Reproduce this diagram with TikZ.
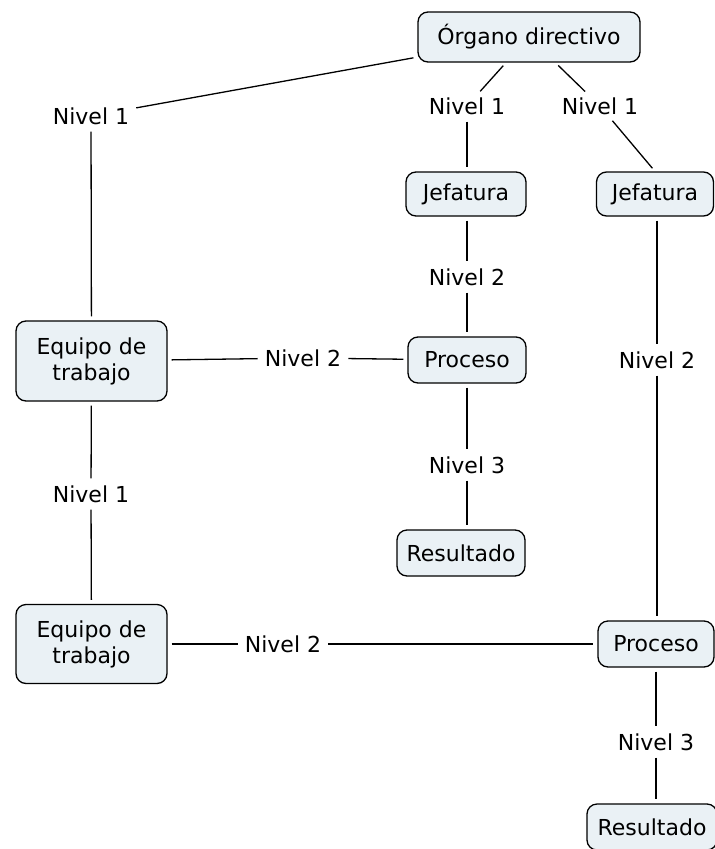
\documentclass[tikz,border=0pt]{standalone}
\usepackage{fontspec}
\setmainfont{DejaVu Sans}
\definecolor{boxfill}{RGB}{234,241,245}
\begin{document}
\begin{tikzpicture}[x=1pt,y=-1pt,
 box/.style={draw=black, line width=1.3pt, rounded corners=10pt, fill=boxfill, font=\fontsize{22}{26}\selectfont, align=center, inner sep=0pt},
 lbl/.style={font=\fontsize{22}{26}\selectfont, inner sep=3pt},
 link/.style={line width=1.3pt, shorten >=4pt, shorten <=4pt}]
\useasboundingbox (0,0) rectangle (715,849);
\node[box, minimum width=222, minimum height=50] (organo) at (529,37) {Órgano directivo};
\node[box, minimum width=120, minimum height=44] (jef1) at (466,194) {Jefatura};
\node[box, minimum width=117, minimum height=44] (jef2) at (655,194) {Jefatura};
\node[box, minimum width=151, minimum height=80] (eq1) at (91.5,361) {Equipo de\\trabajo};
\node[box, minimum width=118, minimum height=46] (proc1) at (467,360) {Proceso};
\node[box, minimum width=128, minimum height=46] (res1) at (461,553) {Resultado};
\node[box, minimum width=151, minimum height=79] (eq2) at (91.5,644) {Equipo de\\trabajo};
\node[box, minimum width=116, minimum height=46] (proc2) at (656,644) {Proceso};
\node[box, minimum width=130, minimum height=46] (res2) at (652,827) {Resultado};

\node[lbl] (n1a) at (91,116) {Nivel 1};
\node[lbl] (n1b) at (467,106) {Nivel 1};
\node[lbl] (n1c) at (600,106) {Nivel 1};
\node[lbl] (n2a) at (467,277) {Nivel 2};
\node[lbl] (n2b) at (303,358) {Nivel 2};
\node[lbl] (n2c) at (657,360) {Nivel 2};
\node[lbl] (n3a) at (467,465) {Nivel 3};
\node[lbl] (n1d) at (91,494) {Nivel 1};
\node[lbl] (n2d) at (283,644) {Nivel 2};
\node[lbl] (n3b) at (656,742) {Nivel 3};

\draw[link] (organo) -- (n1a);
\draw[link] (n1a) -- (eq1);
\draw[link] (organo) -- (n1b);
\draw[link] (n1b) -- (jef1.north -| n1b);
\draw[link] (organo) -- (n1c);
\draw[link] (n1c) -- (jef2.north);
\draw[link] (jef1.south -| n2a) -- (n2a);
\draw[link] (n2a) -- (proc1.north -| n2a);
\draw[link] (eq1) -- (n2b);
\draw[link] (n2b) -- (proc1);
\draw[link] (proc1.south -| n3a) -- (n3a);
\draw[link] (n3a) -- (res1.north -| n3a);
\draw[link] (jef2.south -| n2c) -- (n2c);
\draw[link] (n2c) -- (proc2.north -| n2c);
\draw[link] (eq1) -- (n1d);
\draw[link] (n1d) -- (eq2);
\draw[link] (eq2) -- (n2d);
\draw[link] (n2d) -- (proc2);
\draw[link] (proc2.south -| n3b) -- (n3b);
\draw[link] (n3b) -- (res2.north -| n3b);
\end{tikzpicture}
\end{document}
